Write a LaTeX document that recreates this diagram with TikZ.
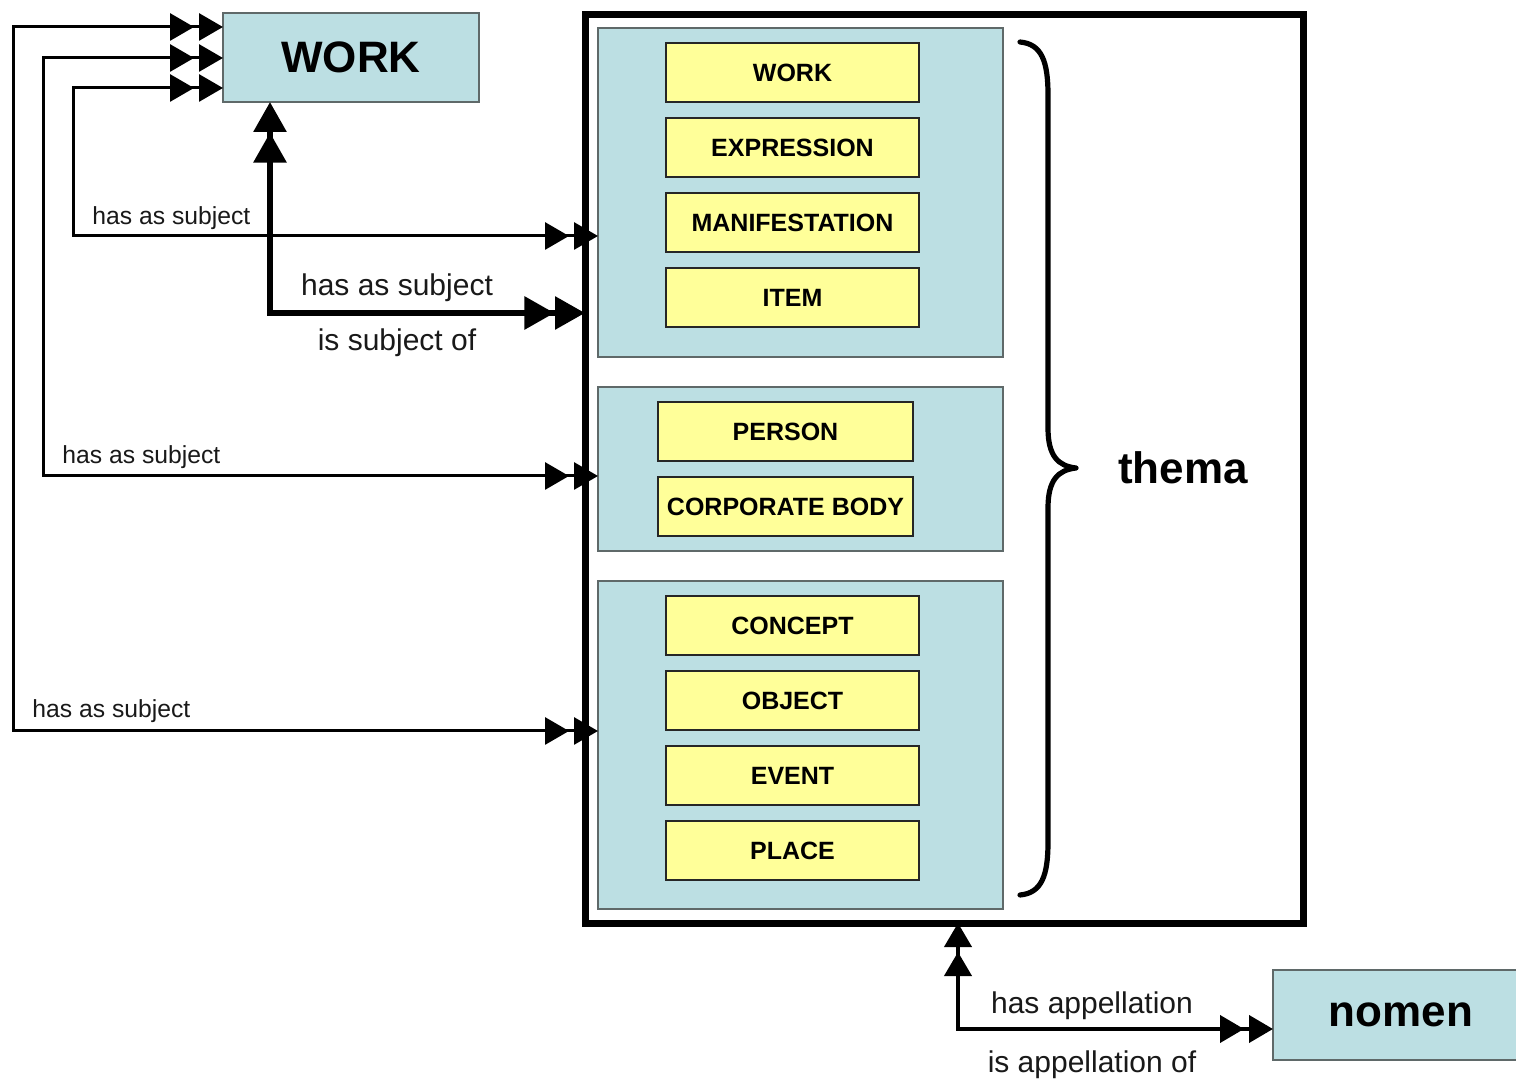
\documentclass[tikz,border=0pt]{standalone}
\usepackage{fontspec}
\setmainfont{Liberation Sans}
\usetikzlibrary{arrows.meta,calc}
\definecolor{lblue}{RGB}{188,223,227}
\definecolor{lyellow}{RGB}{255,255,153}
\definecolor{bgray}{RGB}{95,105,105}
\tikzset{
  dblthin/.tip={Triangle[length=12pt,width=13.5pt,sep=2.5pt] Triangle[length=12pt,width=13.5pt,sep=0pt]},
  dblthick/.tip={Triangle[length=15pt,width=16pt,sep=0.3pt] Triangle[length=15pt,width=16pt,sep=0pt]},
}
\begin{document}
\begin{tikzpicture}[x=0.5pt,y=-0.5pt,
  bigbox/.style={draw=bgray, line width=0.8pt, fill=lblue, inner sep=0pt, outer sep=0pt,
    minimum width=128pt, minimum height=44.5pt, font=\fontsize{22}{26}\selectfont\bfseries},
  grp/.style={draw=bgray, line width=0.7pt, fill=lblue, inner sep=0pt, outer sep=0pt, minimum width=202.5pt},
  ybox/.style={draw=black!85, line width=0.8pt, fill=lyellow, inner sep=0pt, outer sep=0pt,
    minimum width=126.5pt, minimum height=29.5pt, font=\fontsize{12.5}{15}\selectfont\bfseries},
  thinarr/.style={line width=1.5pt, dblthin-dblthin},
  thickarr/.style={line width=3pt, dblthick-dblthick},
  appelarr/.style={line width=2pt, dblthin-dblthin},
  smalllbl/.style={font=\fontsize{12.35}{14}\selectfont, inner sep=0pt, anchor=west, text=black!90},
  biglbl/.style={font=\fontsize{15}{18}\selectfont, inner sep=0pt, text=black!90},
]
\useasboundingbox (0,0) rectangle (1516,1079);
\fill[white] (0,0) rectangle (1516,1079);

% main boxes
\node[bigbox] (work) at (351,57.5) {WORK};
\node[draw=black, line width=3.5pt, inner sep=0pt, outer sep=0pt, minimum width=359pt, minimum height=454pt] (thema) at (944,469) {};
\node[bigbox, minimum width=128pt, minimum height=45pt] (nomen) at (1401,1015) {nomen};

% groups
\node[grp, minimum height=164.5pt] (g1) at (800.5,192.5) {};
\node[grp, minimum height=82pt] (g2) at (800.5,469) {};
\node[grp, minimum height=164pt] (g3) at (800.5,745) {};

% yellow boxes
\node[ybox] (ywork) at (792.5,72.5) {WORK};
\node[ybox] (yexpr) at (792.5,147.5) {EXPRESSION};
\node[ybox] (ymani) at (792.5,222.5) {MANIFESTATION};
\node[ybox] (yitem) at (792.5,297.5) {ITEM};
\node[ybox, minimum width=127.5pt] (ypers) at (785.5,431.5) {PERSON};
\node[ybox, minimum width=127.5pt] (ycorp) at (785.5,506.5) {CORPORATE BODY};
\node[ybox] (yconc) at (792.5,625.5) {CONCEPT};
\node[ybox] (yobj) at (792.5,700.5) {OBJECT};
\node[ybox] (yevent) at (792.5,775.5) {EVENT};
\node[ybox] (yplace) at (792.5,850.5) {PLACE};

% brace and thema label
\draw[line width=2.6pt, line join=round, line cap=round] (1020,42) .. controls (1042,44) and (1048,62) .. (1048,95) -- (1048,428)
  .. controls (1048,456) and (1058,466) .. (1076,468)
  .. controls (1058,470) and (1048,480) .. (1048,508) -- (1048,842)
  .. controls (1048,875) and (1042,893) .. (1020,895);
\node[font=\fontsize{22}{26}\selectfont\bfseries, inner sep=0pt] (themalbl) at (1183,468) {thema};

% helper coordinates
\coordinate (y27) at (0,27);
\coordinate (y58) at (0,58);
\coordinate (y88) at (0,88);
\coordinate (y236) at (0,236);
\coordinate (y313) at (0,313);
\coordinate (y476) at (0,476);
\coordinate (y731) at (0,731);
\coordinate (y1029) at (0,1029);
\coordinate (c1) at (13,731);
\coordinate (c2) at (43,476);
\coordinate (c3) at (73,236);
\coordinate (x270) at (270,0);
\coordinate (x958) at (958,0);

% connectors
\draw[thinarr] (work.west |- y27) -| (c1) -- (g3.west |- y731);
\draw[thinarr] (work.west |- y58) -| (c2) -- (g2.west |- y476);
\draw[thinarr] (work.west |- y88) -| (c3) -- (g1.west |- y236);
\draw[thickarr] (work.south -| x270) |- (thema.west |- y313);
\draw[appelarr] (thema.south -| x958) |- (nomen.west |- y1029);

% labels
\node[smalllbl] (l1) at (92,218) {has as subject};
\node[smalllbl] (l2) at (62,457) {has as subject};
\node[smalllbl] (l3) at (32,711) {has as subject};
\node[biglbl] (l4) at (397,288) {has as subject};
\node[biglbl] (l5) at (397,343) {is subject of};
\node[biglbl] (l6) at (1092,1006) {has appellation};
\node[biglbl] (l7) at (1092,1065) {is appellation of};
\end{tikzpicture}
\end{document}
